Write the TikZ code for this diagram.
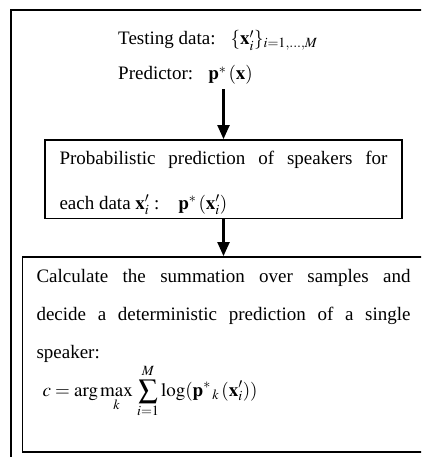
\documentclass[tikz,border=0pt]{standalone}
\usepackage{amsmath}
\usepackage{mathptmx}
\usepackage{fontspec}
\setmainfont{Liberation Serif}
\usetikzlibrary{arrows.meta, positioning, calc}

\begin{document}
\begin{tikzpicture}[x=1pt, y=-1pt,
  txt/.style={font=\fontsize{19}{38}\selectfont, inner sep=0pt},
  stepbox/.style={draw, line width=1.8pt, align=justify, font=\fontsize{19}{38}\selectfont, inner ysep=0pt},
  flow/.style={-{Triangle[length=14pt, width=12pt]}, line width=2.2pt}]
  \useasboundingbox (0,0) rectangle (421,457);
  \clip (0,0) rectangle (421,457);
  % Outer frame, runs off the page at right and bottom
  \draw[line width=2.8pt] (11,10) rectangle (440,480);

  % --- Inputs ---
  \node[txt, anchor=base west] (testing) at (118,45) {Testing data:\hspace{0.8em}$\{\mathbf{x}'_i\}_{i=1,\ldots,M}$};
  \node[txt, anchor=base west] (predictor) at (118,80) {Predictor:\hspace{0.8em}$\mathbf{p}^*\,(\mathbf{x})$};

  % --- Probabilistic prediction ---
  \node[stepbox, font=\fontsize{19}{45}\selectfont, text width=328pt, inner xsep=14.5pt, minimum height=78.5pt] (probbox) at (223.5,179.25)
    {\rule{0pt}{21pt}Probabilistic prediction of speakers for\linebreak
     each data $\mathbf{x}'_i$ :\quad$\mathbf{p}^*\,(\mathbf{x}'_i)$\par};
  \coordinate (arrowtop) at ([yshift=50pt]probbox.north);

  % --- Deterministic decision ---
  \node[stepbox, text width=374pt, inner xsep=14pt, minimum height=195pt] (decidebox) at (223.5,354.5)
    {Calculate the summation over samples and\linebreak
     decide a deterministic prediction of a single\linebreak
     speaker:\par
     \hspace*{6pt}$\displaystyle c=\arg\max_k\,\sum_{i=1}^{M}\log(\mathbf{p}^{*}{}_{\,k}\,(\mathbf{x}'_i))$\rule[-44pt]{0pt}{1pt}\par};

  % Arrows
  \draw[flow] (arrowtop) -- (probbox.north);
  \draw[flow] (probbox.south) -- (decidebox.north);
\end{tikzpicture}
\end{document}
